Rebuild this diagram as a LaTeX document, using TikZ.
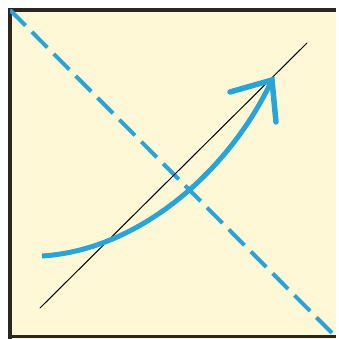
\documentclass[tikz,border=0pt]{standalone}
\definecolor{bgyellow}{HTML}{FFF8D6}
\definecolor{cyanblue}{HTML}{2AA4D6}
\definecolor{framedark}{HTML}{2B2620}
\tikzset{
  dashline/.style={cyanblue, line width=4pt, dash pattern=on 22pt off 9pt},
  thinline/.style={black, line width=1pt, line cap=round},
  bluecurve/.style={cyanblue, line width=5pt},
  barb/.style={cyanblue, line width=5.5pt, line cap=round},
  frameline/.style={framedark, line width=3.5pt}
}
\begin{document}
\begin{tikzpicture}[x=1pt,y=-1pt]
\useasboundingbox (0,0) rectangle (338,339);
\fill[bgyellow] (10,10) rectangle (336,339);
\coordinate (tl) at (10,10);
\coordinate (br) at (338,339);
\draw[frameline] (10,339) -- (10,10) -- (336,10);
\draw[frameline] (10,336.5) -- (336,336.5);
\begin{scope}
\clip (10,10) rectangle (338,339);
\draw[dashline] (tl) -- (br);
\end{scope}
\coordinate (a) at (40,308);
\coordinate (b) at (307,43);
\draw[thinline] (a) -- (b);
\coordinate (s) at (42,256);
\coordinate (tip) at (272,80);
\coordinate (b1) at (230,92);
\coordinate (b2) at (276,122);
\draw[bluecurve] (s) .. controls (140,250) and (230,170) .. (tip);
\draw[barb] (b1) -- (tip) -- (b2);
\end{tikzpicture}
\end{document}
